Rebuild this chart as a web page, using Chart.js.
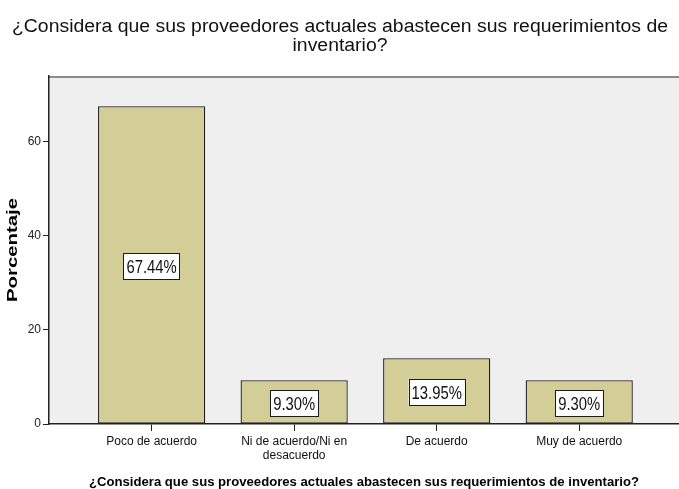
<!DOCTYPE html>
<html>
<head>
<meta charset="utf-8">
<script src="https://cdn.jsdelivr.net/npm/chart.js@4/dist/chart.umd.min.js"></script>
<style>
  html, body { margin: 0; padding: 0; background: #ffffff; }
  #wrap { width: 679px; height: 489px; }
</style>
</head>
<body>
<div id="wrap"><canvas id="c" width="679" height="489"></canvas></div>
<script>
// ---- data ----
const titleLines = ['¿Considera que sus proveedores actuales abastecen sus requerimientos de', 'inventario?'];
const xAxisTitle = '¿Considera que sus proveedores actuales abastecen sus requerimientos de inventario?';
const yAxisTitle = 'Porcentaje';
const categories = [
  'Poco de acuerdo',
  ['Ni de acuerdo/Ni en', 'desacuerdo'],
  'De acuerdo',
  'Muy de acuerdo'
];
const percentages = [67.44, 9.30, 13.95, 9.30];
const yTicks = [0, 20, 40, 60];

const FONT = '"Liberation Sans", Arial, sans-serif';

function drawScaledText(ctx, text, x, y, font, sx, align) {
  ctx.save();
  ctx.font = font;
  ctx.textAlign = align || 'center';
  ctx.translate(x, y);
  ctx.scale(sx, 1);
  ctx.fillText(text, 0, 0);
  ctx.restore();
}

const decorPlugin = {
  id: 'decor',
  beforeDraw(chart) {
    const { ctx, chartArea: a } = chart;
    ctx.save();
    ctx.fillStyle = '#efefef';
    ctx.fillRect(a.left, a.top, a.right - a.left, a.bottom - a.top);
    ctx.strokeStyle = '#8a8a8a';
    ctx.lineWidth = 2;
    ctx.beginPath();
    ctx.moveTo(a.left, a.top + 1);
    ctx.lineTo(a.right, a.top + 1);
    ctx.stroke();
    ctx.restore();
  },
  afterDraw(chart) {
    const { ctx, chartArea: a } = chart;
    ctx.save();
    ctx.fillStyle = '#111';
    ctx.textBaseline = 'alphabetic';
    ctx.font = '18px ' + FONT;
    const tsx = 656 / ctx.measureText(titleLines[0]).width;
    drawScaledText(ctx, titleLines[0], 340, 32, '18px ' + FONT, tsx, 'center');
    drawScaledText(ctx, titleLines[1], 340, 51, '18px ' + FONT, tsx, 'center');
    ctx.fillStyle = '#000';
    ctx.font = 'bold 12px ' + FONT;
    const xsx = 550 / ctx.measureText(xAxisTitle).width;
    drawScaledText(ctx, xAxisTitle, (a.left + a.right) / 2, 486, 'bold 12px ' + FONT, xsx, 'center');
    ctx.font = 'bold 15px ' + FONT;
    const ysx = 104 / ctx.measureText(yAxisTitle).width;
    ctx.save();
    ctx.translate(17, 250);
    ctx.rotate(-Math.PI / 2);
    drawScaledText(ctx, yAxisTitle, 0, 0, 'bold 15px ' + FONT, ysx, 'center');
    ctx.restore();
    ctx.restore();
  },
  afterDatasetsDraw(chart) {
    const { ctx } = chart;
    const meta = chart.getDatasetMeta(0);
    ctx.save();
    const font = '19px ' + FONT;
    const sx = 0.78;
    meta.data.forEach((bar, i) => {
      const txt = percentages[i].toFixed(2) + '%';
      ctx.font = font;
      const w = ctx.measureText(txt).width * sx + 6;
      const h = 26;
      const cx = bar.x;
      const cy = (bar.y + bar.base) / 2 + 1.5;
      ctx.fillStyle = '#ffffff';
      ctx.fillRect(cx - w / 2, cy - h / 2, w, h);
      ctx.strokeStyle = '#1a1a1a';
      ctx.lineWidth = 1;
      ctx.strokeRect(Math.round(cx - w / 2) + 0.5, Math.round(cy - h / 2) + 0.5, Math.round(w), h);
      ctx.fillStyle = '#111';
      ctx.textBaseline = 'middle';
      drawScaledText(ctx, txt, cx, cy + 1, font, sx, 'center');
    });
    ctx.restore();
  }
};

new Chart(document.getElementById('c'), {
  type: 'bar',
  data: {
    datasets: [{
      data: percentages.map((v, i) => ({ x: i, y: v })),
      backgroundColor: '#d3ce98',
      borderColor: '#1e1e1e',
      borderWidth: 1.3,
      borderSkipped: false,
      barPercentage: 0.94,
      categoryPercentage: 0.8
    }]
  },
  options: {
    responsive: false,
    animation: false,
    devicePixelRatio: 1,
    layout: { padding: { top: 76, left: 0, right: 0, bottom: 0 } },
    plugins: {
      legend: { display: false },
      title: { display: false },
      tooltip: { enabled: false }
    },
    scales: {
      x: {
        type: 'linear',
        offset: false,
        min: -0.72,
        max: 3.70,
        afterBuildTicks(scale) {
          scale.ticks = categories.map((c, i) => ({ value: i }));
        },
        afterFit(scale) {
          scale.height = 65;
          scale.paddingLeft = 0;
          scale.paddingRight = 0;
        },
        ticks: {
          autoSkip: false,
          maxRotation: 0,
          minRotation: 0,
          padding: 3,
          color: '#111',
          font: { family: FONT, size: 12 },
          callback: (v) => categories[v]
        },
        grid: {
          display: true,
          offset: false,
          drawOnChartArea: false,
          drawTicks: true,
          tickLength: 7,
          color: '#222'
        },
        border: { display: true, color: '#222', width: 1.5 }
      },
      y: {
        min: 0,
        max: 73.85,
        afterBuildTicks(scale) {
          scale.ticks = yTicks.map(v => ({ value: v }));
        },
        afterFit(scale) {
          scale.width = 49;
          scale.paddingTop = 0;
          scale.paddingBottom = 0;
        },
        ticks: {
          padding: 2,
          color: '#222',
          font: { family: FONT, size: 12 }
        },
        grid: {
          display: true,
          drawOnChartArea: false,
          drawTicks: true,
          tickLength: 6,
          color: '#222'
        },
        border: { display: true, color: '#222', width: 1.5 }
      }
    }
  },
  plugins: [decorPlugin]
});
</script>
</body>
</html>
